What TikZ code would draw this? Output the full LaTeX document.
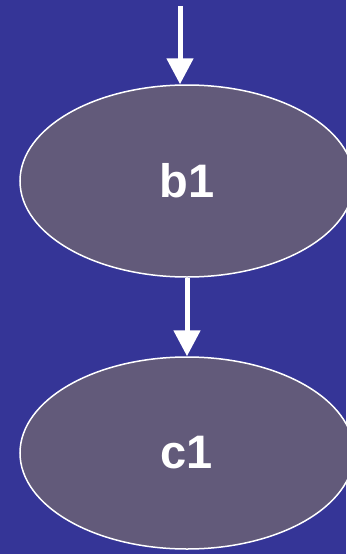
\documentclass[tikz,border=0pt]{standalone}
\usepackage{fontspec}
\setmainfont{Liberation Sans}
\usetikzlibrary{shapes.geometric,arrows.meta}
\definecolor{bgblue}{RGB}{53,53,151}
\definecolor{nodefill}{RGB}{98,90,122}
\tikzset{
  stnode/.style={ellipse, draw=white, line width=1.5pt, fill=nodefill, minimum width=334pt, minimum height=192pt, inner sep=0pt, text=white, font=\fontsize{47}{50}\selectfont\bfseries},
  flow/.style={draw=white, line width=5pt, -{Triangle[length=26pt,width=26pt]}}
}
\begin{document}
\begin{tikzpicture}[x=1pt,y=-1pt]
\fill[bgblue] (0,0) rectangle (346,554);
\useasboundingbox (0,0) rectangle (346,554);
\node[stnode] (b1) at (187,181) {b1};
\node[stnode] (c1) at (187,453) {c1};
\coordinate (top) at (180,6);
\draw[flow] (top) -- (top |- b1.north);
\draw[flow] (b1.south) -- (c1.north);
\end{tikzpicture}
\end{document}
